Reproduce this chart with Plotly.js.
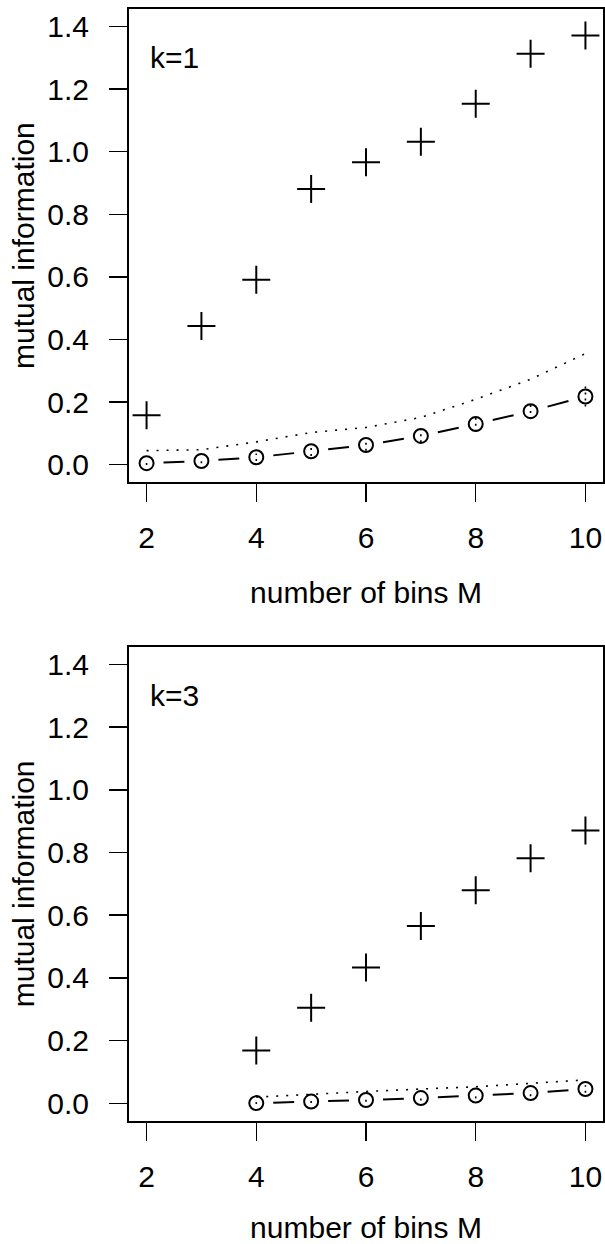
<!DOCTYPE html>
<html>
<head>
<meta charset="utf-8">
<script src="https://cdn.plot.ly/plotly-3.0.1.min.js"></script>
<style>html,body{margin:0;padding:0;background:#fff;}#chart{width:605px;height:1244px;}</style>
</head>
<body>
<div id="chart"></div>
<script>
// ---- data ----
const binsK1 = [2, 3, 4, 5, 6, 7, 8, 9, 10];
const plusK1 = [0.158, 0.443, 0.591, 0.881, 0.966, 1.032, 1.153, 1.313, 1.371];
const circK1 = [0.005, 0.012, 0.024, 0.043, 0.063, 0.092, 0.130, 0.171, 0.218];
const errK1  = [0.006, 0.007, 0.012, 0.015, 0.018, 0.020, 0.025, 0.025, 0.032];
const dotK1  = [0.045, 0.048, 0.073, 0.103, 0.119, 0.151, 0.209, 0.273, 0.355];

const binsK3 = [4, 5, 6, 7, 8, 9, 10];
const plusK3 = [0.169, 0.305, 0.433, 0.566, 0.680, 0.782, 0.870];
const circK3 = [0.001, 0.006, 0.011, 0.017, 0.025, 0.033, 0.046];
const errK3  = [0.003, 0.005, 0.006, 0.008, 0.009, 0.010, 0.012];
const dotK3  = [0.020, 0.030, 0.038, 0.046, 0.053, 0.064, 0.075];

const xTicks = [2, 4, 6, 8, 10];
const yTicks = [0, 0.2, 0.4, 0.6, 0.8, 1.0, 1.2, 1.4];
const panelLabels = ["k=1", "k=3"];
const xTitle = "number of bins M";
const yTitle = "mutual information";

// ---- helpers ----
const FONT = '"Liberation Sans", Arial, Helvetica, sans-serif';
const FS = 30;

// "type b" style segments: line pieces between points with gaps around the points
function gapped(xs, ys, f) {
  const X = [], Y = [];
  for (let i = 0; i < xs.length - 1; i++) {
    const dx = xs[i + 1] - xs[i], dy = ys[i + 1] - ys[i];
    X.push(xs[i] + f * dx, xs[i] + (1 - f) * dx, null);
    Y.push(ys[i] + f * dy, ys[i] + (1 - f) * dy, null);
  }
  return {X, Y};
}
function errSegs(xs, ys, es) {
  const X = [], Y = [];
  for (let i = 0; i < xs.length; i++) {
    X.push(xs[i], xs[i], null);
    Y.push(ys[i] - es[i], ys[i] + es[i], null);
  }
  return {X, Y};
}

function panelTraces(xs, plus, circ, err, dot, xa, ya) {
  const g = gapped(xs, circ, 0.31);
  const e = errSegs(xs, circ, err);
  return [
    {x: xs, y: dot, xaxis: xa, yaxis: ya, mode: 'lines', type: 'scatter',
     line: {color: 'black', width: 1.6, dash: '2px,8px'}, hoverinfo: 'skip'},
    {x: g.X, y: g.Y, xaxis: xa, yaxis: ya, mode: 'lines', type: 'scatter',
     line: {color: 'black', width: 2}, connectgaps: false, hoverinfo: 'skip'},
    {x: e.X, y: e.Y, xaxis: xa, yaxis: ya, mode: 'lines', type: 'scatter',
     line: {color: 'black', width: 1.6, dash: '2px,4px'}, connectgaps: false, hoverinfo: 'skip'},
    {x: xs, y: circ, xaxis: xa, yaxis: ya, mode: 'markers', type: 'scatter',
     marker: {symbol: 'circle-open', size: 14, color: 'black', line: {color: 'black', width: 2}}},
    {x: xs, y: plus, xaxis: xa, yaxis: ya, mode: 'markers', type: 'scatter',
     marker: {symbol: 'cross-thin', size: 20, color: 'black', line: {color: 'black', width: 2}}}
  ];
}

const data = [].concat(
  panelTraces(binsK1, plusK1, circK1, errK1, dotK1, 'x', 'y'),
  panelTraces(binsK3, plusK3, circK3, errK3, dotK3, 'x2', 'y2')
);

function xAxis(anchor) {
  return {
    anchor: anchor, domain: [0, 1], range: [1.68, 10.32],
    tickmode: 'array', tickvals: xTicks, ticktext: xTicks.map(String),
    ticks: 'outside', ticklen: 18, tickwidth: 1.5, tickcolor: 'black',
    ticklabelstandoff: 10,
    showline: true, linecolor: 'black', linewidth: 2, mirror: true,
    showgrid: false, zeroline: false,
    tickfont: {family: FONT, size: FS, color: 'black'},
    title: {text: xTitle, font: {family: FONT, size: FS, color: 'black'}, standoff: 29}
  };
}
function yAxis(anchor, domain) {
  return {
    anchor: anchor, domain: domain, range: [-0.056, 1.456],
    tickmode: 'array', tickvals: yTicks, ticktext: yTicks.map(v => v.toFixed(1)),
    ticks: 'outside', ticklen: 18, tickwidth: 1.5, tickcolor: 'black',
    ticklabelstandoff: 14,
    showline: true, linecolor: 'black', linewidth: 2, mirror: true,
    showgrid: false, zeroline: false,
    tickfont: {family: FONT, size: FS, color: 'black'},
    title: {text: yTitle, font: {family: FONT, size: FS, color: 'black'}, standoff: 4}
  };
}

const layout = {
  width: 605, height: 1244,
  margin: {l: 129, r: 2, t: 9, b: 123},
  paper_bgcolor: 'white', plot_bgcolor: 'white',
  showlegend: false,
  font: {family: FONT, size: FS, color: 'black'},
  xaxis: xAxis('y'),
  yaxis: yAxis('x', [0.5744, 1]),
  xaxis2: xAxis('y2'),
  yaxis2: yAxis('x2', [0, 0.4265]),
  annotations: [
    {xref: 'x', yref: 'y', x: 2.03, y: 1.3, text: panelLabels[0], showarrow: false,
     xanchor: 'left', yanchor: 'middle', font: {family: FONT, size: FS, color: 'black'}},
    {xref: 'x2', yref: 'y2', x: 2.03, y: 1.3, text: panelLabels[1], showarrow: false,
     xanchor: 'left', yanchor: 'middle', font: {family: FONT, size: FS, color: 'black'}}
  ]
};

Plotly.newPlot('chart', data, layout, {displayModeBar: false, staticPlot: true});
</script>
</body>
</html>
